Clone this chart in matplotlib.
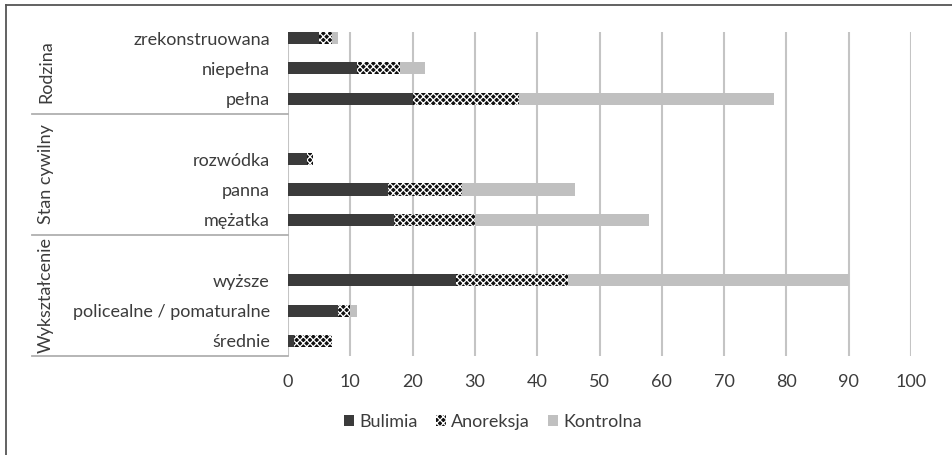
import matplotlib
matplotlib.use("Agg")
import matplotlib.pyplot as plt
from matplotlib.patches import Patch
from matplotlib.lines import Line2D

plt.rcParams['font.family'] = ['Lato', 'DejaVu Sans']
plt.rcParams['hatch.linewidth'] = 0.9

# Category rows, top to bottom (empty strings are spacer rows inside a group)
categories = ["zrekonstruowana", "niepełna", "pełna",
              "", "rozwódka", "panna", "mężatka",
              "", "wyższe", "policealne / pomaturalne", "średnie"]
groups = ["Rodzina", "Stan cywilny", "Wykształcenie"]
group_rows = [(0, 2), (3, 6), (7, 10)]

bulimia = [5, 11, 20, 0, 3, 16, 17, 0, 27, 8, 1]
anoreksja = [2, 7, 17, 0, 1, 12, 13, 0, 18, 2, 6]
kontrolna = [1, 4, 41, 0, 0, 18, 28, 0, 45, 1, 0]

series_names = ["Bulimia", "Anoreksja", "Kontrolna"]
x_ticks = list(range(0, 101, 10))

text_col = "#3c3c3c"
grid_col = "#c4c4c4"
dark = "#3b3b3b"
check = "#101010"
light = "#c0c0c0"
fs = 13

fig = plt.figure(figsize=(9.53, 4.55), dpi=100)
W, H = 953, 455
left, right, top, bottom = 288, 911, 23, 356
ax = fig.add_axes([left / W, 1 - bottom / H, (right - left) / W, (bottom - top) / H])

ypos = list(range(len(categories)))
h = 0.4
b2 = [a + b for a, b in zip(bulimia, anoreksja)]
ax.barh(ypos, bulimia, height=h, color=dark, linewidth=0, zorder=3)
ax.barh(ypos, anoreksja, left=bulimia, height=h, color=check,
        edgecolor="white", linewidth=0, hatch="xxxxx", zorder=3)
ax.barh(ypos, kontrolna, left=b2, height=h, color=light, linewidth=0, zorder=3)

ax.set_xlim(0, 100)
ax.set_ylim(10.5, -0.5)
ax.vlines(x_ticks, 10.5, -0.2, colors=grid_col, linewidth=1.5, zorder=1)
for s in ax.spines.values():
    s.set_visible(False)

ax.set_xticks(x_ticks)
ax.set_xticklabels([str(t) for t in x_ticks])
ax.set_yticks(ypos)
ax.set_yticklabels(categories)
ax.tick_params(axis="both", length=0, colors=text_col, labelsize=fs)
ax.tick_params(axis="y", pad=13)
ax.tick_params(axis="x", pad=13)

# group separators and group titles on the left
trans = ax.get_yaxis_transform()
x0 = (32 - left) / (right - left)
for y in (2.5, 6.5, 10.5):
    ax.add_line(Line2D([x0, 0], [y, y], transform=trans, color="#b0b0b0",
                       linewidth=1.3, clip_on=False))
for name, (a, b) in zip(groups, group_rows):
    ycen = (a + b) / 2 if a != 0 else 1.1
    ax.text((46 - left) / (right - left), ycen, name, transform=trans,
            rotation=90, ha="center", va="center", color=text_col,
            fontsize=fs)

# outer frame (top and left edges)
fig.add_artist(Line2D([6 / W, 1], [1 - 5 / H, 1 - 5 / H], color="#555555", linewidth=1.3))
fig.add_artist(Line2D([6 / W, 6 / W], [0, 1 - 5 / H], color="#555555", linewidth=1.3))

handles = [Patch(facecolor=dark, linewidth=0),
           Patch(facecolor=check, edgecolor="white", linewidth=0, hatch="xxxxx"),
           Patch(facecolor=light, linewidth=0)]
leg = fig.legend(handles, series_names, loc="center", bbox_to_anchor=(493 / W, 1 - 422 / H),
                 ncol=3, frameon=False, handlelength=0.55, handleheight=0.55,
                 handletextpad=0.3, columnspacing=1.0, fontsize=fs)
for t in leg.get_texts():
    t.set_color(text_col)

fig.savefig("out.png", dpi=100, facecolor="white")
